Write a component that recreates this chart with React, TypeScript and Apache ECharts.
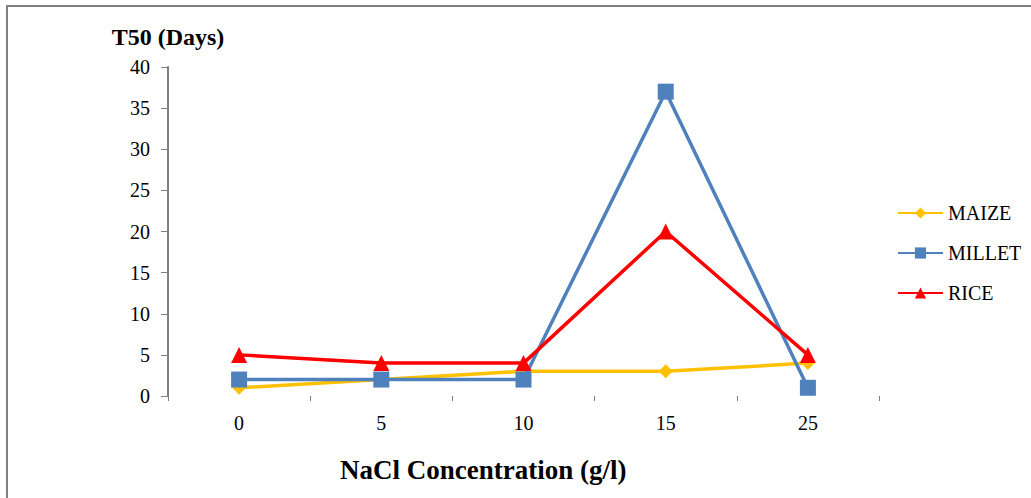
import React, { useEffect, useRef } from "react";
import * as echarts from "echarts";

const categories = ["0", "5", "10", "15", "25"];
const maize = [1, 2, 3, 3, 4];
const millet = [2, 2, 2, 37, 1];
const rice = [5, 4, 4, 20, 5];
const yTicks = { min: 0, max: 40, interval: 5 };

export default function App() {
  const ref = useRef<HTMLDivElement>(null);
  useEffect(() => {
    if (!ref.current) return;
    const chart = echarts.init(ref.current, null, { renderer: "svg" });
    const serif = "Liberation Serif";
    chart.setOption({
      animation: false,
      backgroundColor: "#ffffff",
      textStyle: { fontFamily: serif },
      grid: { left: 168, right: 152, top: 67, bottom: 102, containLabel: false },
      graphic: [
        {
          type: "rect",
          shape: { x: 7, y: 6, width: 1200, height: 700 },
          style: { fill: "none", stroke: "#808080", lineWidth: 2 },
          silent: true,
        },
        {
          type: "text",
          x: 340,
          y: 470,
          style: {
            text: "NaCl Concentration (g/l)",
            fontFamily: serif,
            fontSize: 27,
            fontWeight: "bold",
            fill: "#000",
            verticalAlign: "middle",
          },
        },
      ],
      legend: {
        orient: "vertical",
        left: 892,
        top: 198,
        itemGap: 20,
        itemWidth: 45,
        itemHeight: 14,
        textStyle: { fontFamily: serif, fontSize: 20, color: "#000" },
        data: ["MAIZE", "MILLET", "RICE"],
      },
      xAxis: {
        type: "category",
        data: categories,
        boundaryGap: true,
        axisLine: { show: false },
        axisTick: { show: true, length: 5, inside: false, lineStyle: { color: "#808080" } },
        axisLabel: { fontFamily: serif, fontSize: 20, color: "#000", margin: 17 },
      },
      yAxis: {
        type: "value",
        min: yTicks.min,
        max: yTicks.max,
        interval: yTicks.interval,
        name: "T50 (Days)",
        nameLocation: "end",
        nameGap: 18,
        nameTextStyle: { fontFamily: serif, fontSize: 24, fontWeight: "bold", color: "#000" },
        axisLine: { show: true, lineStyle: { color: "#808080", width: 2 } },
        axisTick: { show: true, length: 7, lineStyle: { color: "#808080" } },
        splitLine: { show: false },
        axisLabel: { fontFamily: serif, fontSize: 20, color: "#000", margin: 18 },
      },
      series: [
        {
          name: "MAIZE",
          type: "line",
          data: maize,
          symbol: "diamond",
          symbolSize: 14,
          itemStyle: { color: "#FFC000" },
          lineStyle: { color: "#FFC000", width: 3.5 },
          z: 2,
        },
        {
          name: "MILLET",
          type: "line",
          data: millet,
          symbol: "rect",
          symbolSize: 16,
          itemStyle: { color: "#4F81BD" },
          lineStyle: { color: "#4F81BD", width: 3.5 },
          z: 3,
        },
        {
          name: "RICE",
          type: "line",
          data: rice,
          symbol: "triangle",
          symbolSize: 16,
          itemStyle: { color: "#FF0000" },
          lineStyle: { color: "#FF0000", width: 3.5 },
          z: 4,
        },
      ],
    });
    return () => chart.dispose();
  }, []);
  return (
    <div
      ref={ref}
      style={{ position: "absolute", left: 0, top: 0, width: 1031, height: 498 }}
    />
  );
}
